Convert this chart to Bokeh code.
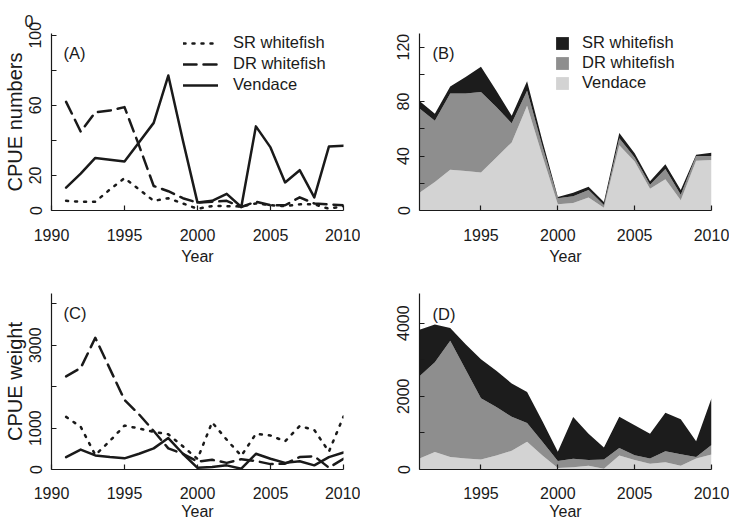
import math
from bokeh.plotting import figure
from bokeh.layouts import column, row
from bokeh.models import (Legend, LegendItem, Label, FixedTicker, Range1d, ColumnDataSource,
                          CDSView, IndexFilter)
from bokeh.embed import file_html
from bokeh.resources import INLINE

# ---------------- data ----------------
years = list(range(1991, 2011))
series_names = ["SR whitefish", "DR whitefish", "Vendace"]

# CPUE numbers
sr_num = [5.5, 5, 5, 12, 18.5, 12, 5.5, 7, 4, 1, 2.5, 2.5, 2.3, 4, 3, 2.5, 3.5, 3.5, 1, 2.5]
dr_num = [62, 45, 56, 57, 59, 37, 14, 11, 7, 4.5, 5, 5.5, 2, 5, 3, 3, 7.5, 4, 3.5, 3]
ven_num = [13, 21, 30, 29, 28, 39, 50, 77, 40, 4.5, 5.5, 9.5, 2, 48, 36, 16, 23, 7.5, 36.5, 37]

# CPUE weight
sr_wt = [1270, 1030, 350, 690, 1060, 990, 910, 850, 560, 255, 1140, 720, 330, 860, 820, 680, 1050, 955, 430, 1280]
dr_wt = [2250, 2450, 3180, 2430, 1680, 1330, 930, 510, 380, 190, 235, 160, 250, 205, 130, 140, 300, 320, 45, 260]
ven_wt = [300, 480, 340, 300, 270, 380, 510, 760, 380, 40, 60, 100, 20, 380, 260, 160, 200, 100, 300, 410]

x_ticks_a = [1990, 1995, 2000, 2005, 2010]
x_ticks_b = [1995, 2000, 2005, 2010]
y_ticks_a = [0, 20, 40, 60, 80, 100]
y_labels_a = {0: "0", 20: "20", 40: "", 60: "60", 80: "", 100: "100"}
y_ticks_b = [0, 20, 40, 60, 80, 100, 120]
y_labels_b = {0: "0", 20: "", 40: "40", 60: "", 80: "80", 100: "", 120: "120"}
y_ticks_c = [0, 1000, 2000, 3000, 4000]
y_labels_c = {0: "0", 1000: "1000", 2000: "", 3000: "3000", 4000: ""}
y_ticks_d = [0, 1000, 2000, 3000, 4000]
y_labels_d = {0: "0", 1000: "", 2000: "2000", 3000: "", 4000: "4000"}

# ---------------- style ----------------
FONT = "Liberation Sans"
INK = "#1a1a1a"
C_SR = "#1c1c1c"
C_DR = "#8e8e8e"
C_VEN = "#d3d3d3"
DASH = {"SR whitefish": "2 7", "DR whitefish": "13 7", "Vendace": "solid"}


def make_fig(width, height, xr, yr, bl, br, bt, bb, xticks, yticks, ylabels,
             xstand, xlstand, ytitle=None):
    p = figure(width=width, height=height, x_range=Range1d(*xr), y_range=Range1d(*yr),
               output_backend="svg", toolbar_location=None,
               min_border_left=bl, min_border_right=br, min_border_top=bt, min_border_bottom=bb)
    p.xgrid.visible = False
    p.ygrid.visible = False
    p.outline_line_color = None
    for ax in (p.xaxis[0], p.yaxis[0]):
        ax.axis_line_color = INK
        ax.axis_line_width = 1.2
        ax.major_tick_line_color = INK
        ax.major_tick_line_width = 1.2
        ax.major_tick_in = 5
        ax.major_tick_out = 0
        ax.minor_tick_line_color = None
        ax.major_label_text_font = FONT
        ax.major_label_text_font_size = "16px"
        ax.major_label_text_color = INK
        ax.axis_label_text_font = FONT
        ax.axis_label_text_font_style = "normal"
        ax.axis_label_text_color = INK
    p.xaxis.ticker = FixedTicker(ticks=xticks)
    p.xaxis.major_label_standoff = xstand
    p.xaxis.axis_label = "Year"
    p.xaxis.axis_label_text_font_size = "16px"
    p.xaxis.axis_label_standoff = xlstand
    p.yaxis.ticker = FixedTicker(ticks=yticks)
    p.yaxis.major_label_overrides = ylabels
    p.yaxis.major_label_orientation = "vertical"
    p.yaxis.major_label_standoff = 10
    if ytitle:
        p.yaxis.axis_label = ytitle
        p.yaxis.axis_label_text_font_size = "20px"
        p.yaxis.axis_label_standoff = 1
    return p


def add_text(p, x, y, text, size="16.5px"):
    p.add_layout(Label(x=x, y=y, x_units="screen", y_units="screen", text=text,
                       text_font=FONT, text_font_size=size, text_color=INK,
                       text_align="left", text_baseline="alphabetic"))


def line_panel(p, values):
    rs = []
    for name, vals in zip(series_names, values):
        r = p.line(years, vals, line_color=INK, line_width=2.5, line_dash=DASH[name],
                   line_cap="round", line_join="round")
        rs.append(r)
    return rs


def area_panel(p, values):
    sr, dr, ven = values
    base = [0 for _ in years]
    ven_top = list(ven)
    dr_top = [a + b for a, b in zip(ven, dr)]
    tot = [a + b for a, b in zip(dr_top, sr)]
    src = ColumnDataSource(dict(x=years, base=base, ven=ven_top, dr=dr_top, tot=tot))
    r_ven = p.varea(x="x", y1="base", y2="ven", source=src, fill_color=C_VEN)
    r_dr = p.varea(x="x", y1="ven", y2="dr", source=src, fill_color=C_DR)
    r_sr = p.varea(x="x", y1="dr", y2="tot", source=src, fill_color=C_SR)
    # outlined swatches for the legend only (drawn nowhere in the plot)
    hidden = CDSView(filter=IndexFilter(indices=[]))
    sw = []
    for lo, hi, c in (("dr", "tot", C_SR), ("ven", "dr", C_DR), ("base", "ven", C_VEN)):
        sw.append(p.quad(left="x", right="x", bottom=lo, top=hi, source=src, view=hidden,
                         fill_color=c, line_color=INK, line_width=1))
    return [r_sr, r_dr, r_ven], sw


# ---------------- panel A ----------------
pa = make_fig(360, 267, (1990, 2010), (0, 101), 51, 17, 33, 56, x_ticks_a, y_ticks_a, y_labels_a,
              18, 4, ytitle="CPUE numbers")
ra = line_panel(pa, [sr_num, dr_num, ven_num])
leg_a = Legend(items=[LegendItem(label=n, renderers=[r]) for n, r in zip(series_names, ra)],
               location=(132, 115.5), orientation="vertical", padding=0, margin=0, spacing=1,
               glyph_width=35, glyph_height=20, label_height=20, label_standoff=15,
               label_text_font=FONT, label_text_font_size="16.5px", label_text_color=INK,
               background_fill_alpha=0, border_line_alpha=0)
pa.add_layout(leg_a)
add_text(pa, 12, 157.5, "(A)")
pa.title.text = "0"
pa.title.text_font = FONT
pa.title.text_font_size = "16px"
pa.title.text_font_style = "normal"
pa.title.text_color = INK
pa.title.align = "left"
pa.title.offset = -27
pa.title.standoff = 13

# ---------------- panel B ----------------
pb = make_fig(369, 267, (1991, 2010), (0, 130), 59, 18, 33, 56, x_ticks_b, y_ticks_b, y_labels_b,
              18, 4)
areas_b, swatch_b = area_panel(pb, [sr_num, dr_num, ven_num])
leg_b = Legend(items=[LegendItem(label=n, renderers=[a, s])
                      for n, a, s in zip(series_names, areas_b, swatch_b)],
               location=(135, 117.5), orientation="vertical", padding=0, margin=0, spacing=0,
               glyph_width=16, glyph_height=16, label_height=20, label_standoff=12,
               label_text_font=FONT, label_text_font_size="16.5px", label_text_color=INK,
               background_fill_alpha=0, border_line_alpha=0)
pb.add_layout(leg_b)
add_text(pb, 13, 157.5, "(B)")

# ---------------- panel C ----------------
pc = make_fig(360, 255, (1990, 2010), (0, 4250), 51, 17, 26, 52, x_ticks_a, y_ticks_c, y_labels_c,
              17, 1, ytitle="CPUE weight")
line_panel(pc, [sr_wt, dr_wt, ven_wt])
add_text(pc, 12, 156.5, "(C)")

# ---------------- panel D ----------------
pd_ = make_fig(369, 255, (1991, 2010), (0, 4810), 59, 18, 26, 52, x_ticks_b, y_ticks_d, y_labels_d,
               17, 1)
area_panel(pd_, [sr_wt, dr_wt, ven_wt])
add_text(pd_, 13, 156, "(D)")

layout = column(row(pa, pb), row(pc, pd_))

open("out.html", "w").write(file_html(layout, INLINE))
